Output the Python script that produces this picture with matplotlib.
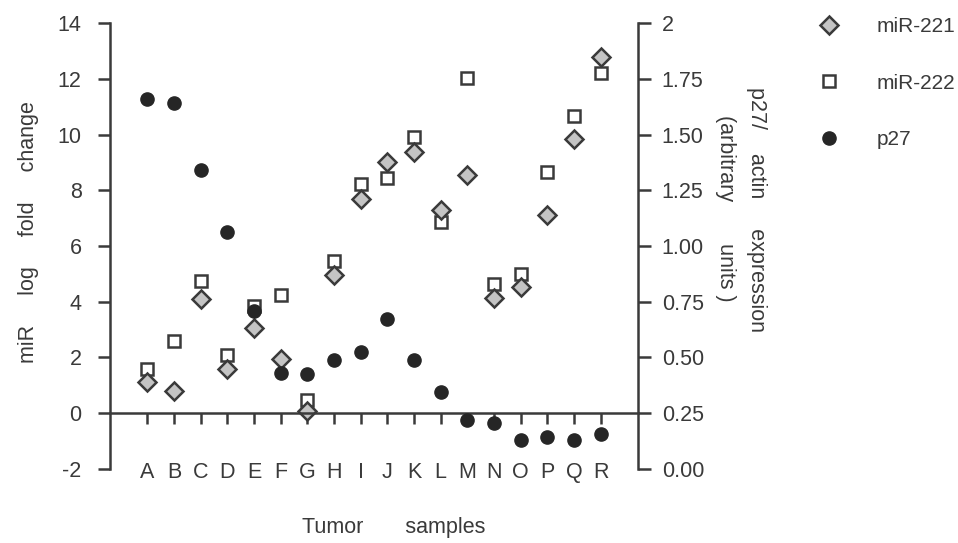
import numpy as np
import matplotlib.pyplot as plt

plt.rcParams['font.family'] = ['Liberation Sans', 'DejaVu Sans']
plt.rcParams['axes.unicode_minus'] = False

samples = list("ABCDEFGHIJKLMNOPQR")
mir221 = [1.12, 0.80, 4.09, 1.57, 3.06, 1.96, 0.08, 4.95, 7.67, 9.00,
          9.39, 7.30, 8.53, 4.15, 4.53, 7.13, 9.85, 12.77]
mir222 = [1.57, 2.58, 4.74, 2.08, 3.83, 4.25, 0.47, 5.48, 8.24, 8.45,
          9.90, 6.86, 12.02, 4.62, 4.98, 8.67, 10.66, 12.20]
p27 = [1.659, 1.642, 1.339, 1.062, 0.707, 0.430, 0.425, 0.490, 0.523, 0.671,
       0.487, 0.345, 0.219, 0.208, 0.129, 0.144, 0.128, 0.155]
left_ticks = [-2, 0, 2, 4, 6, 8, 10, 12, 14]
right_ticks = [0, 0.25, 0.5, 0.75, 1.0, 1.25, 1.5, 1.75, 2.0]
right_labels = ['0.00', '0.25', '0.50', '0.75', '1.00', '1.25', '1.50', '1.75', '2']

ink = '#3a3a3a'
x = np.arange(len(samples))

fig = plt.figure(figsize=(9.58, 5.43), dpi=100)
ax = fig.add_axes([0.1148, 0.1363, 0.5512, 0.8213])
ax2 = ax.twinx()

ax.set_xlim(-1.4, 18.4)
ax.set_ylim(-2, 14)
ax2.set_ylim(0, 2)

# p27 plotted on the right axis
h3, = ax2.plot(x, p27, 'o', ms=9.5, mfc='#262626', mec='#262626', label='p27')
h2, = ax.plot(x, mir222, 's', ms=9, mfc='white', mec=ink, mew=1.8, label='miR-222')
h1, = ax.plot(x, mir221, 'D', ms=9.5, mfc='#c4c4c4', mec=ink, mew=1.8, label='miR-221')

for a in (ax, ax2):
    a.spines['top'].set_visible(False)
ax.spines['right'].set_visible(False)
ax2.spines['left'].set_visible(False)
ax2.spines['bottom'].set_visible(False)
ax.spines['bottom'].set_position(('data', 0))
for s in ('left', 'bottom'):
    ax.spines[s].set_color(ink)
    ax.spines[s].set_linewidth(1.8)
ax2.spines['right'].set_color(ink)
ax2.spines['right'].set_linewidth(1.8)

ax.set_yticks(left_ticks)
ax.set_xticks(x)
ax.set_xticklabels(samples)
ax.tick_params(axis='y', direction='out', length=8.5, width=1.8, color=ink,
               labelsize=15.5, labelcolor=ink, pad=12)
ax.tick_params(axis='x', direction='out', length=8, width=1.8, color=ink,
               labelsize=15.5, labelcolor=ink, pad=27)
ax2.set_yticks(right_ticks)
ax2.set_yticklabels(right_labels)
ax2.tick_params(axis='y', direction='out', length=9, width=1.8, color=ink,
                labelsize=15.5, labelcolor=ink, pad=8)

fig.text(0.030, 0.573, 'miR     log     fold     change', rotation=90,
         ha='center', va='center', fontsize=15.5, color=ink)
fig.text(0.790, 0.615, 'p27/    actin     expression', rotation=-90,
         ha='center', va='center', fontsize=15.5, color=ink)
fig.text(0.757, 0.617, '(arbitrary       units )', rotation=-90, ha='center',
         va='center', fontsize=15.5, color=ink)
fig.text(0.411, 0.028, 'Tumor       samples', ha='center', va='center',
         fontsize=15.5, color=ink)

fig.legend(handles=[h1, h2, h3], loc='upper left', bbox_to_anchor=(0.835, 1.003),
           frameon=False, fontsize=15, labelspacing=1.8, handlelength=1.0,
           handletextpad=1.8, labelcolor=ink)

fig.savefig('out.png', dpi=100)
